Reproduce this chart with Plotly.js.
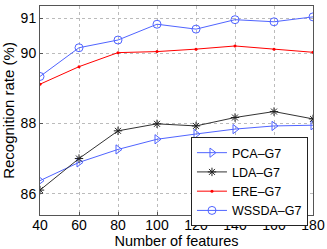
<!DOCTYPE html>
<html>
<head>
<script src="https://cdn.plot.ly/plotly-3.0.1.min.js"></script>
<style>html,body{margin:0;padding:0;background:#fff;}#chart{width:327px;height:249px;}</style>
</head>
<body>
<div id="chart"></div>
<script>
var features = [40, 60, 80, 100, 120, 140, 160, 180];
var pca = [86.37, 86.89, 87.26, 87.55, 87.70, 87.84, 87.93, 87.95];
var lda = [86.10, 87.00, 87.79, 87.99, 87.93, 88.17, 88.34, 88.13];
var ere = [89.12, 89.62, 90.02, 90.05, 90.12, 90.21, 90.12, 90.03];
var wssda = [89.34, 90.16, 90.38, 90.83, 90.69, 90.96, 90.90, 91.04];
var xTicks = [40, 60, 80, 100, 120, 140, 160, 180];
var yTicks = [86, 88, 90, 91];
var names = ['PCA\u2013G7', 'LDA\u2013G7', 'ERE\u2013G7', 'WSSDA\u2013G7'];

var blue = 'rgb(80,100,255)';
var traces = [
  {x: features, y: pca, name: names[0], mode: 'lines+markers', line: {color: blue, width: 1},
   marker: {symbol: 'triangle-right-open', size: 8, color: blue, line: {color: blue, width: 1}}},
  {x: features, y: lda, name: names[1], mode: 'lines+markers', line: {color: '#333', width: 1},
   marker: {symbol: 'asterisk-open', size: 7, color: '#222', line: {color: '#222', width: 1}}},
  {x: features, y: ere, name: names[2], mode: 'lines+markers', line: {color: 'red', width: 1},
   marker: {symbol: 'circle', size: 3, color: 'red'}},
  {x: features, y: wssda, name: names[3], mode: 'lines+markers', line: {color: blue, width: 1},
   marker: {symbol: 'circle-open', size: 8, color: blue, line: {color: blue, width: 1}}}
];

var layout = {
  width: 327, height: 249,
  margin: {l: 40, r: 14, t: 6, b: 34},
  paper_bgcolor: '#fff', plot_bgcolor: '#fff',
  font: {family: 'Liberation Sans, Arial, sans-serif', color: '#000'},
  showlegend: true,
  legend: {x: 0.553, y: 0.373, xanchor: 'left', yanchor: 'top', bgcolor: '#fff',
           bordercolor: '#222', borderwidth: 1, font: {size: 12.5}, tracegroupgap: 0,
           itemwidth: 30},
  xaxis: {range: [40, 180], tickvals: xTicks, ticktext: xTicks.map(String),
          showgrid: true, gridcolor: '#bbb', griddash: 'dot', gridwidth: 1,
          showline: true, mirror: true, linecolor: '#555', linewidth: 1,
          ticks: 'inside', ticklen: 3, tickcolor: '#555', zeroline: false,
          ticklabelstandoff: -3,
          tickfont: {size: 14}, title: {text: 'Number of features', font: {size: 14.5}, standoff: 0}},
  yaxis: {range: [85.39, 91.35], tickvals: yTicks, ticktext: yTicks.map(String),
          showgrid: true, gridcolor: '#bbb', griddash: 'dot', gridwidth: 1,
          showline: true, mirror: true, linecolor: '#555', linewidth: 1,
          ticks: 'inside', ticklen: 3, tickcolor: '#555', zeroline: false,
          tickfont: {size: 14}, title: {text: 'Recognition rate (%)', font: {size: 15}, standoff: 5}}
};
Plotly.newPlot('chart', traces, layout, {staticPlot: true, displayModeBar: false});
</script>
</body>
</html>
